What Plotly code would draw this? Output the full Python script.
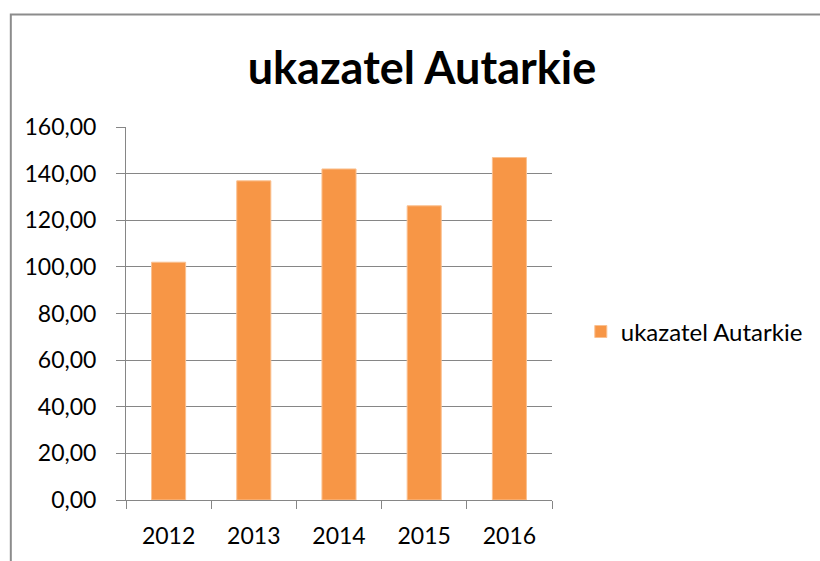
import plotly.graph_objects as go

years = ["2012", "2013", "2014", "2015", "2016"]
values = [102.0, 136.9, 142.0, 126.2, 146.9]
series_name = "ukazatel Autarkie"
title_text = "ukazatel Autarkie"
y_ticks = [0, 20, 40, 60, 80, 100, 120, 140, 160]
y_tick_labels = ["0,00", "20,00", "40,00", "60,00", "80,00", "100,00", "120,00", "140,00", "160,00"]

W, H = 820, 561
L, R, T, B = 126, 555, 127, 502
pw, ph = R - L, B - T

def px_to_paper_x(px):
    return (px - L) / pw

def px_to_paper_y(py):
    return (B - py) / ph

grid = "#868686"
font = "Lato"

fig = go.Figure()
fig.add_trace(go.Bar(
    x=years, y=values, name=series_name,
    marker=dict(color="#F79646", line=dict(color="#FAC090", width=1)),
    showlegend=True,
))

fig.update_layout(
    width=W, height=H,
    margin=dict(l=L, r=W - R, t=T, b=H - B, pad=0),
    paper_bgcolor="white", plot_bgcolor="white",
    bargap=0.6,
    font=dict(family=font, color="#000000"),
    title=dict(text="<b>" + title_text + "</b>", x=422 / W, xanchor="center",
               xref="container", y=1 - 68 / H, yanchor="middle", yref="container",
               font=dict(family=font, size=45, color="#000000")),
    showlegend=True,
    legend=dict(x=px_to_paper_x(584), y=px_to_paper_y(333), xanchor="left", yanchor="middle",
                font=dict(family=font, size=24, color="#000000"),
                bgcolor="rgba(0,0,0,0)", itemwidth=30),
    xaxis=dict(type="category", showline=True, linecolor=grid, linewidth=1,
               ticks="outside", tickson="boundaries", ticklen=8, tickcolor=grid,
               showgrid=False, tickfont=dict(family=font, size=23, color="#000000"),
               ticklabelstandoff=15),
    yaxis=dict(range=[0, 160], tickvals=y_ticks, ticktext=y_tick_labels,
               showline=True, linecolor=grid, linewidth=1,
               ticks="outside", ticklen=9, tickcolor=grid,
               showgrid=True, gridcolor=grid, gridwidth=1, zeroline=False,
               tickfont=dict(family=font, size=23, color="#000000"),
               ticklabelstandoff=15),
    shapes=[dict(type="rect", xref="paper", yref="paper",
                 x0=px_to_paper_x(10), x1=px_to_paper_x(W + 40),
                 y0=px_to_paper_y(H + 40), y1=px_to_paper_y(14),
                 line=dict(color="#8C8C8C", width=2), fillcolor="rgba(0,0,0,0)", layer="below")],
)

fig.write_html(
    "out.html",
    config={"displayModeBar": False},
    post_script="document.body.style.margin='0';document.body.style.overflow='hidden';",
)
